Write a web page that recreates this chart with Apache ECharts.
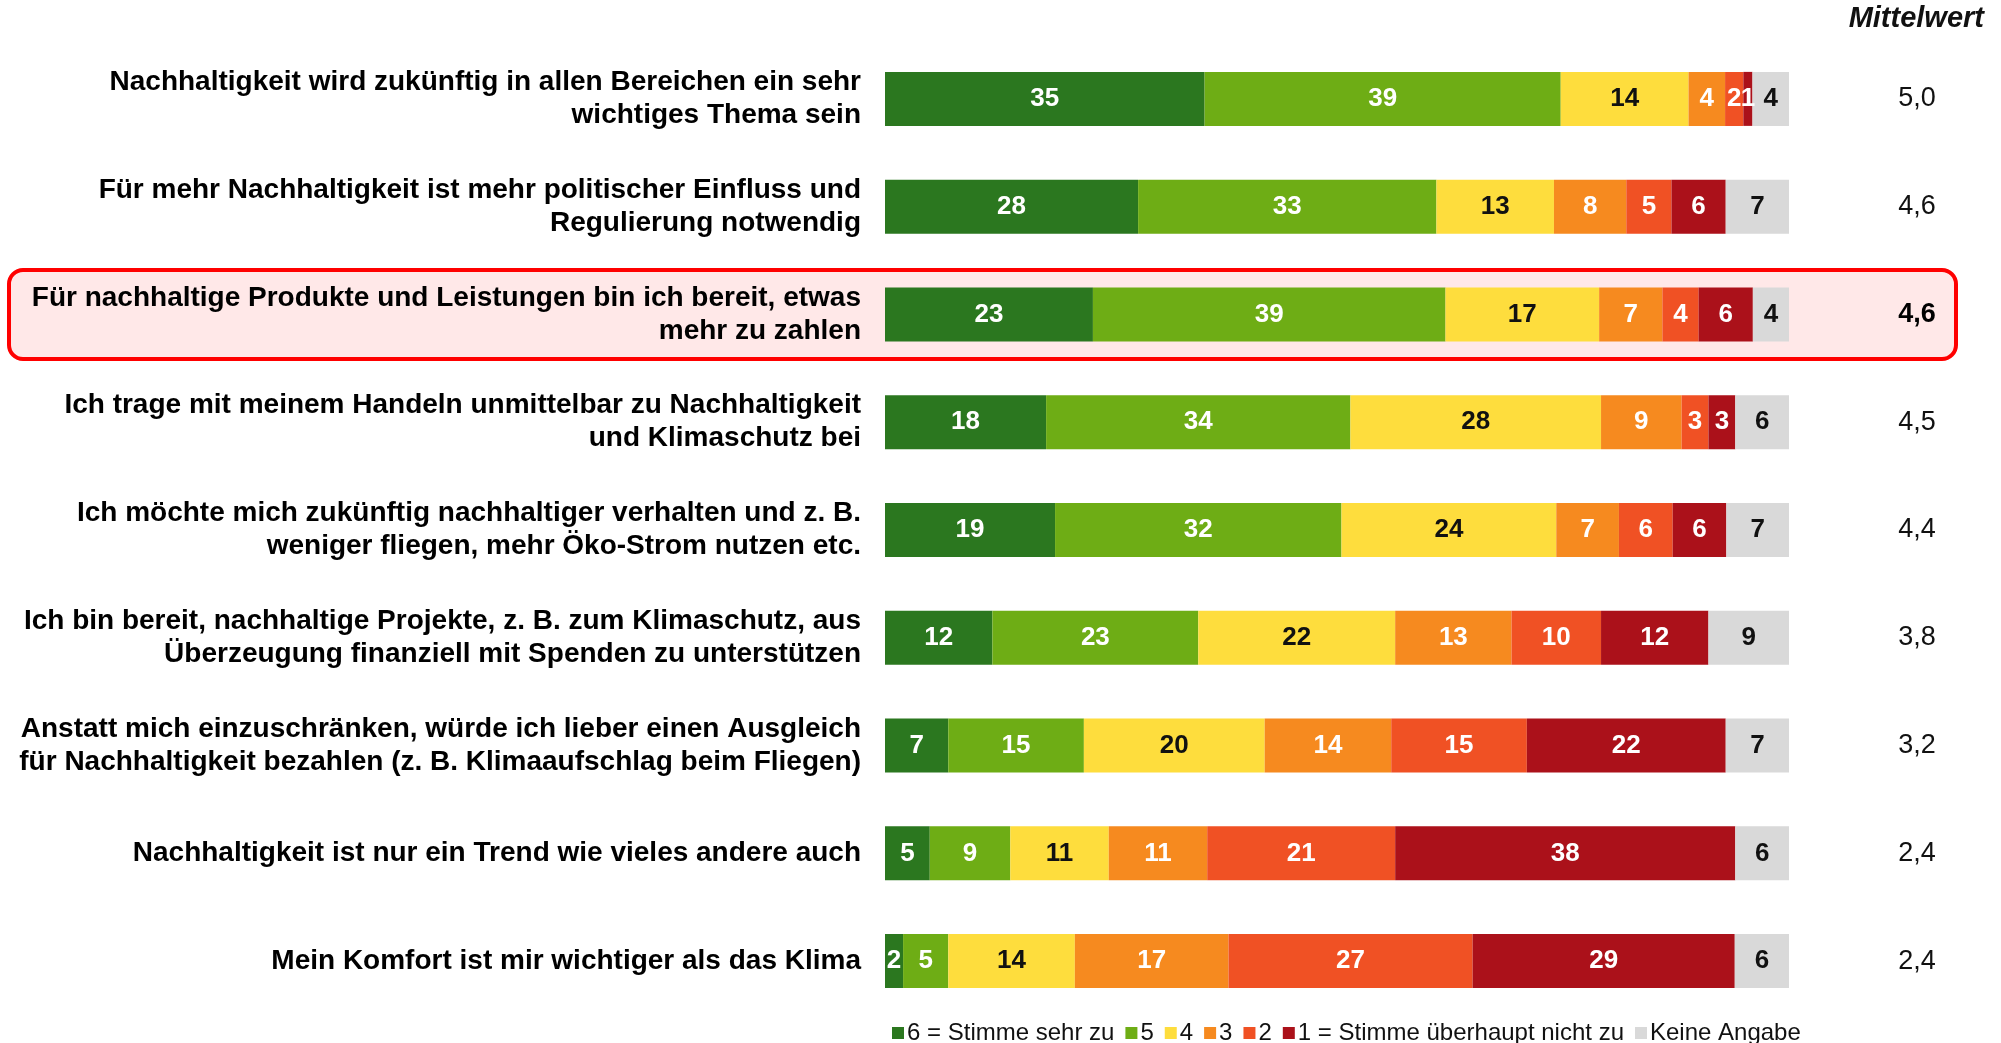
<!DOCTYPE html>
<html>
<head>
<meta charset="utf-8">
<script src="https://cdn.jsdelivr.net/npm/echarts@6/dist/echarts.min.js"></script>
<style>
  html, body { margin: 0; padding: 0; background: #fff; }
  #chart { width: 2001px; height: 1043px; }
</style>
</head>
<body>
<div id="chart"></div>
<script>
var categories = [
  'Nachhaltigkeit wird zukünftig in allen Bereichen ein sehr\nwichtiges Thema sein',
  'Für mehr Nachhaltigkeit ist mehr politischer Einfluss und\nRegulierung notwendig',
  'Für nachhaltige Produkte und Leistungen bin ich bereit, etwas\nmehr zu zahlen',
  'Ich trage mit meinem Handeln unmittelbar zu Nachhaltigkeit\nund Klimaschutz bei',
  'Ich möchte mich zukünftig nachhaltiger verhalten und z. B.\nweniger fliegen, mehr Öko-Strom nutzen etc.',
  'Ich bin bereit, nachhaltige Projekte, z. B. zum Klimaschutz, aus\nÜberzeugung finanziell mit Spenden zu unterstützen',
  'Anstatt mich einzuschränken, würde ich lieber einen Ausgleich\nfür Nachhaltigkeit bezahlen (z. B. Klimaaufschlag beim Fliegen)',
  'Nachhaltigkeit ist nur ein Trend wie vieles andere auch',
  'Mein Komfort ist mir wichtiger als das Klima'
]
var stimme6 = [35, 28, 23, 18, 19, 12, 7, 5, 2]
var stimme5 = [39, 33, 39, 34, 32, 23, 15, 9, 5]
var stimme4 = [14, 13, 17, 28, 24, 22, 20, 11, 14]
var stimme3 = [4, 8, 7, 9, 7, 13, 14, 11, 17]
var stimme2 = [2, 5, 4, 3, 6, 10, 15, 21, 27]
var stimme1 = [1, 6, 6, 3, 6, 12, 22, 38, 29]
var keineAngabe = [4, 7, 4, 6, 7, 9, 7, 6, 6]
var mittelwert = ['5,0', '4,6', '4,6', '4,5', '4,4', '3,8', '3,2', '2,4', '2,4']
var highlightRow = 2

var seriesNames = ['6 = Stimme sehr zu', '5', '4', '3', '2', '1 = Stimme überhaupt nicht zu', 'Keine Angabe']
var seriesValues = [stimme6, stimme5, stimme4, stimme3, stimme2, stimme1, keineAngabe]
var colors = ['#2B771F', '#6EAD15', '#FEDD3D', '#F68A1F', '#F05124', '#AB111A', '#D9D9D9']
var labelColors = ['#fff', '#fff', '#111', '#fff', '#fff', '#fff', '#111']

var font = "'Liberation Sans', Arial, sans-serif"

// row totals, so every bar fills 100 %
var rowSums = categories.map(function (c, i) {
  return seriesValues.reduce(function (s, arr) { return s + arr[i] }, 0)
})

var chart = echarts.init(document.getElementById('chart'))

var series = seriesValues.map(function (arr, k) {
  return {
    name: seriesNames[k],
    type: 'bar',
    stack: 'total',
    barWidth: 54,
    itemStyle: { color: colors[k] },
    label: {
      show: true,
      position: 'inside',
      color: labelColors[k],
      fontFamily: font,
      fontWeight: 'bold',
      fontSize: 26,
      formatter: function (p) { return arr[p.dataIndex] }
    },
    emphasis: { disabled: true },
    data: arr.map(function (v, i) { return v / rowSums[i] * 100 })
  }
})

var option = {
  animation: false,
  textStyle: { fontFamily: font },
  color: colors,
  grid: { left: 885, right: 212, top: 45, bottom: 28 },
  legend: {
    left: 887,
    top: 1016,
    icon: 'rect',
    itemWidth: 12,
    itemHeight: 12,
    itemGap: 11,
    textStyle: { fontSize: 24, color: '#111', fontFamily: font, padding: [0, 0, 0, -2] },
    data: seriesNames
  },
  xAxis: {
    type: 'value',
    min: 0,
    max: 100,
    show: false
  },
  yAxis: [
    {
      type: 'category',
      inverse: true,
      data: categories,
      axisLine: { show: false },
      axisTick: { show: false },
      axisLabel: {
        margin: 24,
        align: 'right',
        color: '#000',
        fontFamily: font,
        fontWeight: 'bold',
        fontSize: 28,
        lineHeight: 33
      }
    },
    {
      type: 'category',
      inverse: true,
      position: 'right',
      data: mittelwert,
      axisLine: { show: false },
      axisTick: { show: false },
      axisLabel: {
        margin: 128,
        align: 'center',
        fontFamily: font,
        fontSize: 27,
        color: '#111',
        formatter: function (v, i) {
          return i === highlightRow ? '{b|' + v + '}' : v
        },
        rich: {
          b: { fontWeight: 'bold', fontSize: 27, color: '#000', fontFamily: font }
        }
      }
    }
  ],
  graphic: [
    {
      type: 'rect',
      z: -10,
      shape: { x: 9, y: 270, width: 1947, height: 89, r: 14 },
      style: { fill: '#FFE8E8', stroke: '#FF0000', lineWidth: 4 }
    },
    {
      type: 'text',
      right: 17,
      top: 4,
      style: {
        text: 'Mittelwert',
        fontFamily: font,
        fontSize: 29,
        fontWeight: 'bold',
        fontStyle: 'italic',
        fill: '#111'
      }
    }
  ],
  series: series
}

chart.setOption(option)
</script>
</body>
</html>
